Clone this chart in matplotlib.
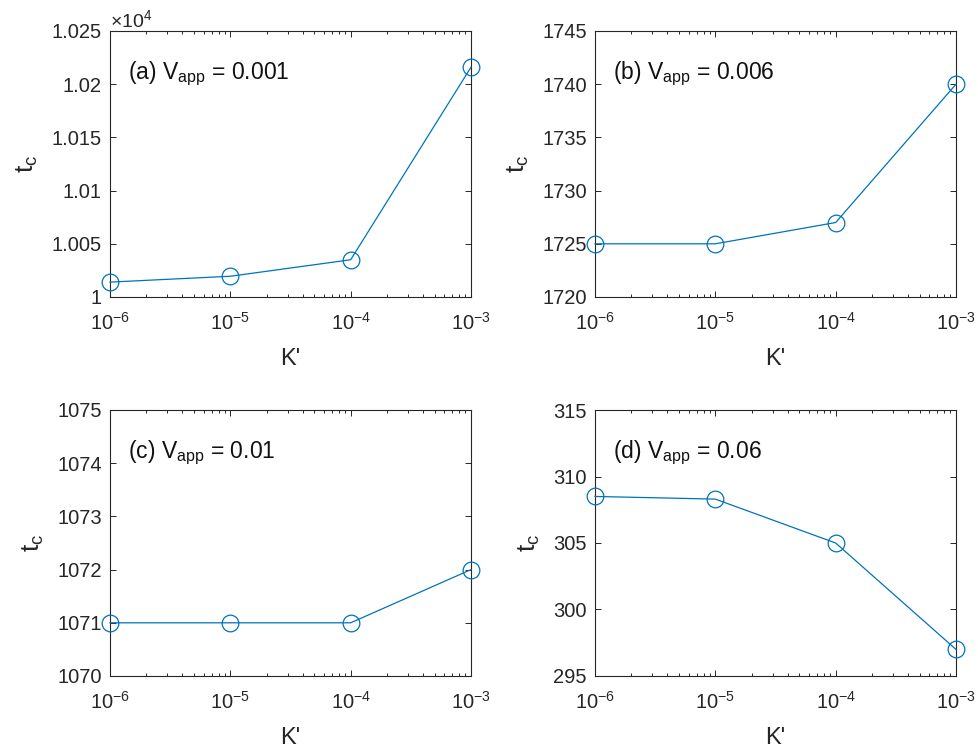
import matplotlib.pyplot as plt
from matplotlib.ticker import FuncFormatter, LogLocator, NullFormatter

plt.rcParams['font.family'] = ['Liberation Sans', 'DejaVu Sans']
plt.rcParams['mathtext.fontset'] = 'custom'
plt.rcParams['mathtext.rm'] = 'Liberation Sans'
plt.rcParams['mathtext.it'] = 'Liberation Sans:italic'

# Data
k_prime = [1e-6, 1e-5, 1e-4, 1e-3]
tc_a = [10014, 10019.5, 10035, 10216]
tc_b = [1725, 1725, 1727, 1740]
tc_c = [1071, 1071, 1071, 1072]
tc_d = [308.5, 308.3, 305, 297]

labels = ['(a) V$_{\\rm app}$ = 0.001', '(b) V$_{\\rm app}$ = 0.006',
          '(c) V$_{\\rm app}$ = 0.01', '(d) V$_{\\rm app}$ = 0.06']
ylims = [(10000, 10250), (1720, 1745), (1070, 1075), (295, 315)]
yticks = [[10000, 10050, 10100, 10150, 10200, 10250],
          [1720, 1725, 1730, 1735, 1740, 1745],
          [1070, 1071, 1072, 1073, 1074, 1075],
          [295, 300, 305, 310, 315]]
series = [tc_a, tc_b, tc_c, tc_d]

W, H = 979, 753
fig = plt.figure(figsize=(W / 100, H / 100), dpi=100)

# axes boxes in pixels: left, top, right, bottom
boxes = [(110, 31, 471, 297), (595, 31, 956, 297),
         (110, 410, 471, 676), (595, 410, 956, 676)]

color = '#0072BD'
for i, (l, t, r, b) in enumerate(boxes):
    ax = fig.add_axes([l / W, (H - b) / H, (r - l) / W, (b - t) / H])
    ax.plot(k_prime, series[i], '-o', color=color, lw=0.9, ms=12,
            mfc='none', mew=0.9, clip_on=False, zorder=3)
    ax.set_xscale('log')
    ax.set_xlim(1e-6, 1e-3)
    ax.set_ylim(*ylims[i])
    ax.set_yticks(yticks[i])
    ax.xaxis.set_minor_locator(LogLocator(base=10, subs=range(2, 10)))
    ax.xaxis.set_minor_formatter(NullFormatter())
    if i == 0:
        ax.yaxis.set_major_formatter(FuncFormatter(lambda v, p: f'{v / 1e4:g}'))
        ax.text(0.0, 1.0, '$\\times$10$^4$', transform=ax.transAxes,
                fontsize=14, color='#262626', ha='left', va='bottom')
    ax.tick_params(which='both', direction='in', top=True, right=True,
                   labelsize=14.5, colors='#262626', width=0.7)
    ax.tick_params(axis='x', which='major', length=4.5, pad=11)
    ax.tick_params(axis='y', which='major', length=4.5, pad=6)
    ax.tick_params(which='minor', length=2.5)
    for s in ax.spines.values():
        s.set_linewidth(0.8)
        s.set_color('#262626')
    ax.set_xlabel("K'", fontsize=17, color='#262626', labelpad=10)
    ax.set_ylabel('t$_{\\rm c}$', fontsize=19, color='#262626', labelpad=8)
    ax.text(0.05, 0.84, labels[i], transform=ax.transAxes, fontsize=16.5,
            color='#111111', ha='left', va='center')

fig.savefig('out.png', dpi=100)
